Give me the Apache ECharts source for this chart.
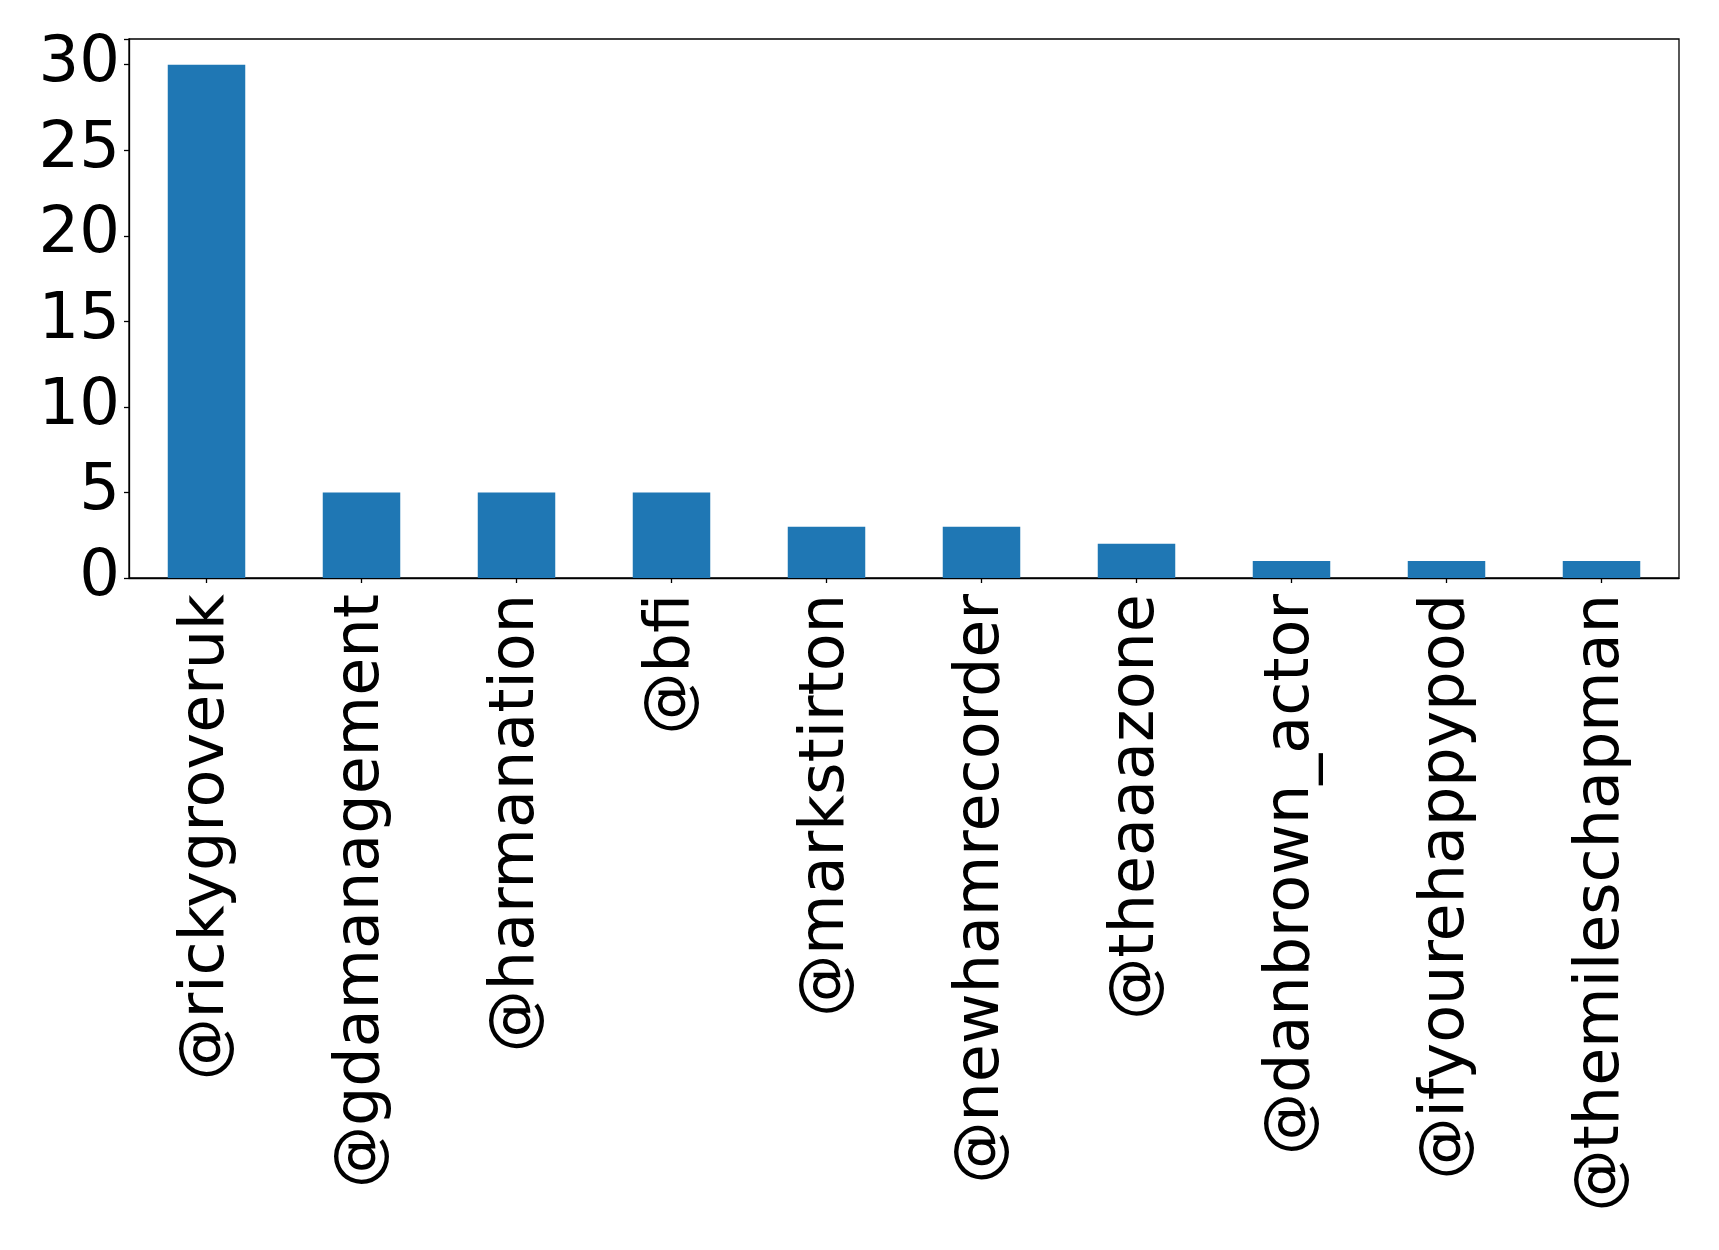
<!DOCTYPE html>
<html>
<head>
<meta charset="utf-8">
<script src="https://cdn.jsdelivr.net/npm/echarts@6/dist/echarts.min.js"></script>
<style>
html,body{margin:0;padding:0;background:#fff;}
#chart{width:1719px;height:1250px;}
</style>
</head>
<body>
<div id="chart"></div>
<script>
const categories = ['@rickygroveruk','@gdamanagement','@harmanation','@bfi','@markstirton','@newhamrecorder','@theaaazone','@danbrown_actor','@ifyourehappypod','@themileschapman'];
const counts = [30, 5, 5, 5, 3, 3, 2, 1, 1, 1];
const yTicks = [0, 5, 10, 15, 20, 25, 30];

const chart = echarts.init(document.getElementById('chart'), null, {renderer: 'canvas'});
chart.setOption({
  animation: false,
  backgroundColor: '#ffffff',
  grid: {
    left: 129, top: 39, width: 1550, height: 539,
    show: true, borderColor: '#000', borderWidth: 1.3, backgroundColor: 'transparent'
  },
  xAxis: {
    type: 'category',
    data: categories,
    boundaryGap: true,
    axisLine: {show: true, lineStyle: {color: '#000', width: 1.3}},
    axisTick: {show: true, alignWithLabel: true, length: 5, lineStyle: {color: '#000', width: 1.3}},
    axisLabel: {
      rotate: 90, interval: 0, margin: 16,
      fontFamily: 'DejaVu Sans', fontSize: 62, color: '#000'
    },
    splitLine: {show: false}
  },
  yAxis: {
    type: 'value',
    min: 0, max: 31.5, interval: 5,
    axisLine: {show: true, lineStyle: {color: '#000', width: 1.3}},
    axisTick: {show: true, length: 5, lineStyle: {color: '#000', width: 1.3}},
    axisLabel: {
      margin: 9, fontFamily: 'DejaVu Sans', fontSize: 64, color: '#000',
      formatter: function (v) { return yTicks.indexOf(v) >= 0 ? String(v) : ''; }
    },
    splitLine: {show: false}
  },
  series: [{
    type: 'bar',
    data: counts,
    barWidth: '50%',
    itemStyle: {color: '#1f77b4'}
  }]
});
</script>
</body>
</html>
